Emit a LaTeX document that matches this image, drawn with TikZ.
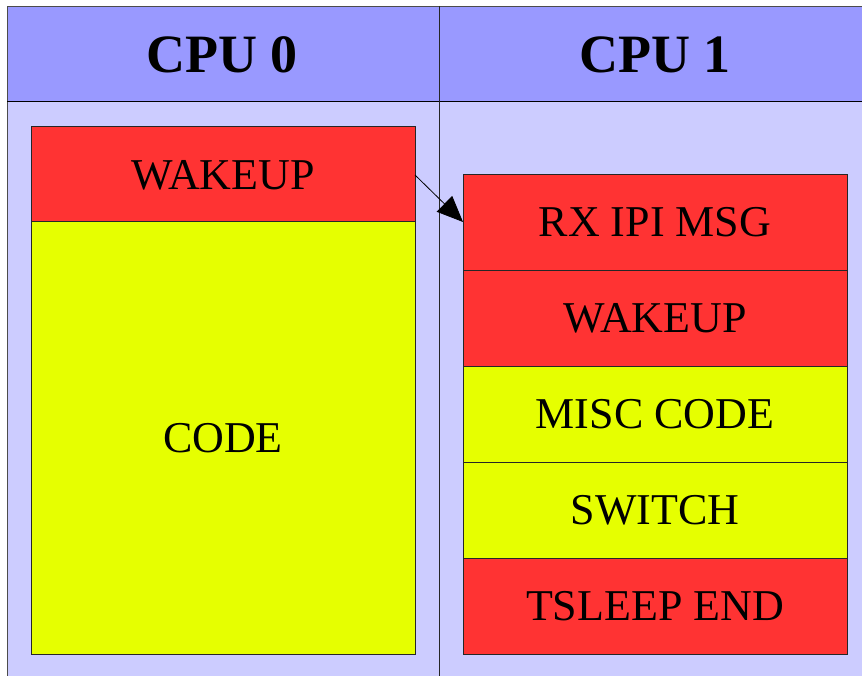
\documentclass[tikz,border=0pt]{standalone}
\usepackage{fontspec}
\setmainfont{Liberation Serif}
\usetikzlibrary{arrows.meta}
\definecolor{hdr}{HTML}{9999FF}
\definecolor{bodyc}{HTML}{CCCCFF}
\definecolor{redc}{HTML}{FF3333}
\definecolor{yelc}{HTML}{E6FF00}
\tikzset{
  x=1pt,y=-1pt,
  blk/.style={draw=black!85,line width=0.8pt,inner sep=0pt},
  lbl/.style={font=\fontsize{44}{44}\selectfont},
  hlbl/.style={font=\fontsize{54}{54}\selectfont\bfseries},
}
\begin{document}
\begin{tikzpicture}
\useasboundingbox (0,0) rectangle (862,676);
% panels
\fill[bodyc] (7,6) rectangle (870,690);
\fill[hdr] (7,6) rectangle (870,101);
\draw[black!70,line width=0.8pt] (870,6) -- (7,6) -- (7,690);
\draw[black,line width=0.8pt] (7,101) -- (870,101);
\draw[black!85,line width=0.8pt] (439,6) -- (439,690);
\node[hlbl] (h0) at (222,55) {CPU 0};
\node[hlbl] (h1) at (655,55) {CPU 1};
% CPU 0
\draw[blk,fill=redc] (31,126) rectangle (415,221);
\draw[blk,fill=yelc] (31,221) rectangle (415,654);
\node[lbl] (w0) at (223,175) {WAKEUP};
\node[lbl] (c0) at (223,438) {CODE};
% CPU 1
\draw[blk,fill=redc] (463,174) rectangle (847,270);
\draw[blk,fill=redc] (463,270) rectangle (847,366);
\draw[blk,fill=yelc] (463,366) rectangle (847,462);
\draw[blk,fill=yelc] (463,462) rectangle (847,558);
\draw[blk,fill=redc] (463,558) rectangle (847,654);
\node[lbl] (r1) at (655,222) {RX IPI MSG};
\node[lbl] (r2) at (655,318) {WAKEUP};
\node[lbl] (r3) at (655,414) {MISC CODE};
\node[lbl] (r4) at (655,510) {SWITCH};
\node[lbl] (r5) at (655,606) {TSLEEP END};
\coordinate (a0) at (415,175);
\coordinate (a1) at (463,222);
\draw[line width=0.8pt,-{Triangle[length=26pt,width=22pt]}] (a0) -- (a1);
\end{tikzpicture}
\end{document}
